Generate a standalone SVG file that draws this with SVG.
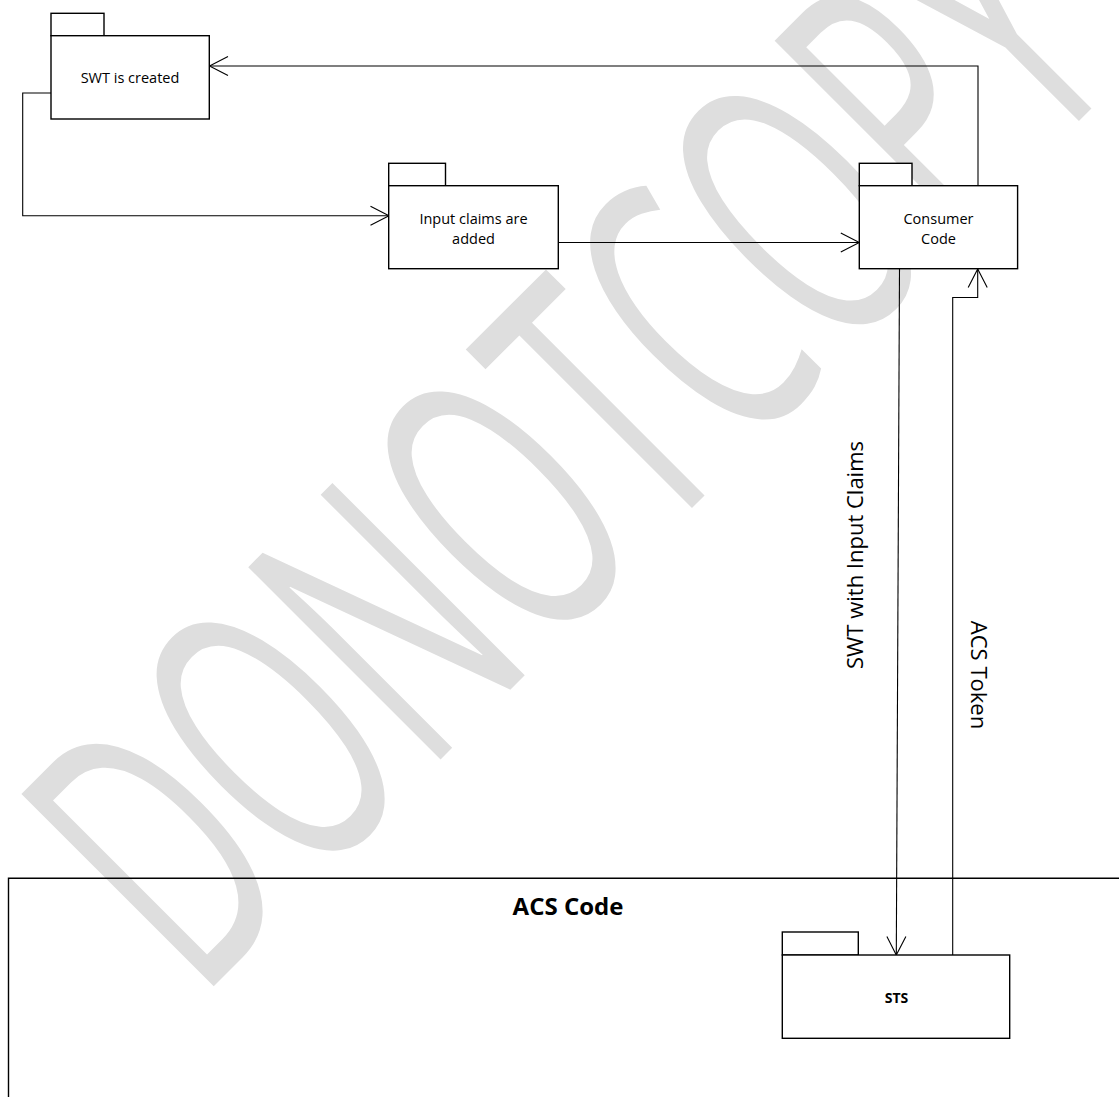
<svg xmlns="http://www.w3.org/2000/svg" width="1119" height="1097" viewBox="0 0 1119 1097">
  <style>
    .box { fill: #ffffff; stroke: #000000; stroke-width: 1.4; }
    .frame { fill: none; stroke: #000000; stroke-width: 1.4; }
    .conn { fill: none; stroke: #000000; stroke-width: 1.1; }
    .lbl { font-family: "Open Sans", "Liberation Sans", sans-serif; font-size: 14.5px; fill: #000000; text-anchor: middle; }
    .bold { font-family: "Open Sans", "Liberation Sans", sans-serif; font-weight: bold; fill: #000000; text-anchor: middle; }
    .edge { font-family: "Open Sans", "Liberation Sans", sans-serif; font-size: 22px; fill: #000000; text-anchor: middle; }
    .wm { font-family: "Open Sans", "Liberation Sans", sans-serif; font-weight: 400; font-size: 381px; fill: #dedede; }
  </style>
  <defs>
    <marker id="open" viewBox="-20 -11 22 22" markerWidth="22" markerHeight="22" refX="0" refY="0" markerUnits="userSpaceOnUse" orient="auto">
      <path d="M-18.5,-9.5 L0,0 L-18.5,9.5" fill="none" stroke="#000000" stroke-width="1.1"/>
    </marker>
  </defs>
  <rect width="1119" height="1097" fill="#ffffff"/>

  <g id="watermark">
    <text class="wm" transform="translate(199,1001) rotate(-45) scale(0.56,1)">DONOTCOPY</text>
  </g>

  <g id="acs-code">
    <path class="frame" d="M8.5,1097 V878.3 H1119"/>
    <text class="bold" x="568" y="915" font-size="24">ACS Code</text>
  </g>

  <g id="connectors">
    <path class="conn" d="M978,185.7 V66 H209.5" marker-end="url(#open)"/>
    <path class="conn" d="M51,93 H22.7 V215.7 H389" marker-end="url(#open)"/>
    <path class="conn" d="M558.3,242.5 H859.3" marker-end="url(#open)"/>
    <path class="conn" d="M899.5,268.6 L896.3,955" marker-end="url(#open)"/>
    <path class="conn" d="M952.7,955 V297.5 H977.7 V269" marker-end="url(#open)"/>
    <text class="edge" transform="translate(863,555) rotate(-90)">SWT with Input Claims</text>
    <text class="edge" transform="translate(970.5,675) rotate(90)">ACS Token</text>
  </g>

  <g id="swt-created">
    <rect class="box" x="51" y="13.3" width="53" height="22.4"/>
    <rect class="box" x="51" y="35.7" width="158.3" height="83.3"/>
    <text class="lbl" x="130" y="83.3">SWT is created</text>
  </g>

  <g id="input-claims">
    <rect class="box" x="388.7" y="163.3" width="56.8" height="22.4"/>
    <rect class="box" x="388.7" y="185.7" width="169.6" height="83"/>
    <text class="lbl" x="473.5" y="224">Input claims are</text>
    <text class="lbl" x="473.5" y="243.5">added</text>
  </g>

  <g id="consumer-code">
    <rect class="box" x="859.3" y="163.3" width="52.7" height="22.4"/>
    <rect class="box" x="859.3" y="185.7" width="158.3" height="83"/>
    <text class="lbl" x="938.5" y="224">Consumer</text>
    <text class="lbl" x="938.5" y="243.5">Code</text>
  </g>

  <g id="sts">
    <rect class="box" x="782.3" y="932" width="76" height="23"/>
    <rect class="box" x="782.3" y="955" width="227.4" height="83.3"/>
    <text class="bold" x="896.5" y="1002.7" font-size="14">STS</text>
  </g>
</svg>
